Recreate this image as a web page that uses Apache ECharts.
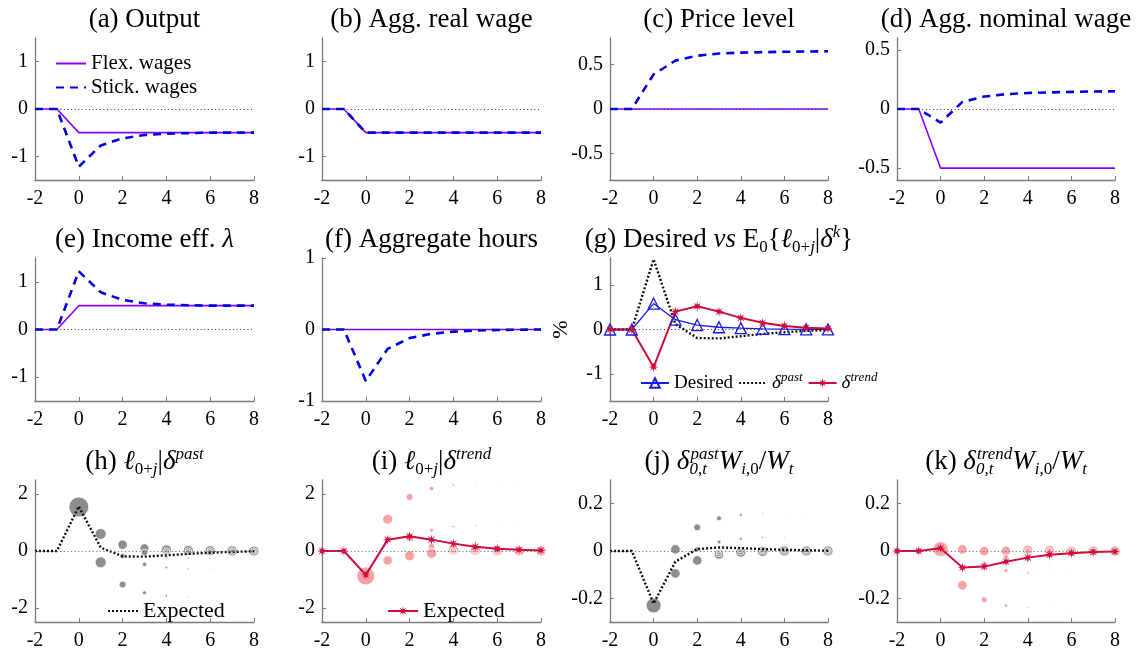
<!DOCTYPE html>
<html><head><meta charset="utf-8">
<script src="https://cdn.jsdelivr.net/npm/echarts@6/dist/echarts.min.js"></script>
<style>html,body{margin:0;padding:0;background:#fff}#c{width:1143px;height:653px}</style>
</head><body><div id="c"></div>
<script>
// ---------- DATA ----------
const periods = [-2,-1,0,1,2,3,4,5,6,7,8];
const outputFlex   = [0,0,-0.5,-0.5,-0.5,-0.5,-0.5,-0.5,-0.5,-0.5,-0.5];
const outputStick  = [0,0,-1.22,-0.77,-0.62,-0.55,-0.52,-0.51,-0.5,-0.5,-0.5];
const realWageFlex = [0,0,-0.5,-0.5,-0.5,-0.5,-0.5,-0.5,-0.5,-0.5,-0.5];
const realWageStick= [0,0,-0.5,-0.5,-0.5,-0.5,-0.5,-0.5,-0.5,-0.5,-0.5];
const priceFlex    = [0,0,0,0,0,0,0,0,0,0,0];
const priceStick   = [0,0,0.39,0.545,0.6,0.625,0.635,0.64,0.645,0.648,0.65];
const nomWageFlex  = [0,0,-0.5,-0.5,-0.5,-0.5,-0.5,-0.5,-0.5,-0.5,-0.5];
const nomWageStick = [0,0,-0.115,0.06,0.105,0.125,0.135,0.14,0.145,0.148,0.15];
const lambdaFlex   = [0,0,0.5,0.5,0.5,0.5,0.5,0.5,0.5,0.5,0.5];
const lambdaStick  = [0,0,1.22,0.78,0.62,0.55,0.52,0.51,0.5,0.5,0.5];
const hoursFlex    = [0,0,0,0,0,0,0,0,0,0,0];
const hoursStick   = [0,0,-0.72,-0.27,-0.12,-0.06,-0.03,-0.015,-0.007,-0.003,0];
const desired      = [0,0,0.58,0.22,0.1,0.05,0.03,0.015,0.008,0.004,0.002];
const deltaPast    = [0,0,1.57,0.12,-0.19,-0.2,-0.15,-0.1,-0.06,-0.03,-0.01];
const deltaTrend   = [0,0,-0.84,0.4,0.52,0.4,0.26,0.15,0.08,0.04,0.02];
const wagePastExp  = [0,0,-0.222,-0.045,0.008,0.015,0.012,0.008,0.005,0.003,0.001];
const wageTrendExp = [0,0,0.012,-0.07,-0.066,-0.045,-0.028,-0.016,-0.009,-0.004,-0.002];
// bubbles: [period, value, weight]
const hoursPastBubbles = [
 [0,1.55,20],[1,0.6,11],[1,-0.4,11],[2,0.22,9.5],[2,-0.18,5],[2,-1.18,7],
 [3,0.1,9],[3,-0.05,6.5],[3,-0.47,4.5],[3,-1.47,4],
 [4,0.04,10],[4,0.0,6.5],[4,-0.01,3.5],[4,-0.2,3],[4,-0.58,2.5],[4,-1.58,2.5],
 [5,0.02,10],[5,0.0,6.5],[5,-0.01,3.5],[5,-0.25,2],[5,-0.63,1.8],[5,-1.62,1.5],
 [6,0.01,10],[6,0,6.5],[6,-0.005,3.5],[6,-0.26,1.5],[6,-0.65,1.2],
 [7,0.005,10],[7,0,6.5],[7,0,3.5],[8,0,10],[8,0,6.5],[8,0,3.5]
];
const hoursTrendBubbles = [
 [0,-0.88,18],[1,1.12,10],[1,-0.33,9.5],[2,1.9,7],[2,0.45,7],[2,-0.17,10],
 [3,2.2,4.5],[3,0.73,4],[3,0.16,6.5],[3,-0.08,10],
 [4,2.33,2.5],[4,0.86,2.5],[4,0.3,3],[4,0.03,10],[4,0,6.5],[4,-0.02,3.5],
 [5,2.38,1.5],[5,0.9,1.8],[5,0.33,2.5],[5,0.02,10],[5,0,6.5],[5,-0.01,3.5],
 [6,2.4,1],[6,0.92,1.2],[6,0.35,1.8],[6,0.01,10],[6,0,6.5],[6,0,3.5],
 [7,2.42,0.8],[7,0.93,1],[7,0.36,1.2],[7,0,10],[7,0,6.5],[7,0,3.5],
 [8,0,10],[8,0,6.5],[8,0,3.5]
];
const wagePastBubbles = [
 [0,-0.23,15],[1,0.007,9.5],[1,-0.095,9.5],[2,0.1,7],[2,0.007,5],[2,-0.04,9.5],
 [3,0.138,5],[3,0.038,4],[3,-0.015,9.5],[3,-0.012,6],[3,-0.01,3],
 [4,0.152,3],[4,0.052,3],[4,0.014,2.5],[4,-0.005,10],[4,-0.003,6.5],[4,0,3.5],
 [5,0.158,1.5],[5,0.057,2],[5,0.018,2],[5,-0.002,10],[5,0,6.5],[5,0,3.5],
 [6,0.162,1],[6,0.06,1.2],[6,0,10],[6,0,6.5],[6,0,3.5],
 [7,0.163,0.8],[7,0,10],[7,0,6.5],[7,0,3.5],[8,0,10],[8,0,6.5],[8,0,3.5]
];
const wageTrendBubbles = [
 [0,0.008,15],[1,0.007,9.5],[1,-0.145,9.5],[2,0.0,9.5],[2,-0.055,5],[2,-0.206,6],
 [3,0.0,9.5],[3,-0.024,5],[3,-0.082,4],[3,-0.23,3.5],
 [4,0.003,10],[4,0,6.5],[4,-0.04,2.5],[4,-0.092,2.5],[4,-0.238,2],
 [5,0.002,10],[5,0,6.5],[5,-0.045,1.5],[5,-0.096,1.5],[5,-0.24,1.5],
 [6,0,10],[6,0,6.5],[6,-0.098,1.2],[6,-0.242,1],
 [7,0,10],[7,0,6.5],[7,-0.099,0.8],[8,0,10],[8,0,6.5],[8,0,3.5]
];
const xTickStep = 2;
const yRanges = [[-1.5,1.5],[-1.5,1.5],[-0.8,0.8],[-0.6,0.6],[-1.5,1.5],[-1,1],[-1.6,1.6],[-2.5,2.5],[-2.5,2.5],[-0.3,0.3],[-0.3,0.3]];
const yTickLabels = [[-1,0,1],[-1,0,1],[-0.5,0,0.5],[-0.5,0,0.5],[-1,0,1],[-1,0,1],[-1,0,1],[-2,0,2],[-2,0,2],[-0.2,0,0.2],[-0.2,0,0.2]];
const panelTitles = [
 '(a) Output','(b) Agg. real wage','(c) Price level','(d) Agg. nominal wage',
 '(e) Income eff. {i|λ}','(f) Aggregate hours',
 '(g) Desired {i|vs} E{sub|0}{{i|ℓ}{sub|0+}{subi|j}|{i|δ}{supi|k}}',
 '(h) {i|ℓ}{sub|0+}{subi|j}|{i|δ}{supi|past}',
 '(i) {i|ℓ}{sub|0+}{subi|j}|{i|δ}{supi|trend}',
 '{t|(j) }{i|δ}{subz|0,t}{supi|past}{i|W}{subi|i}{sub|,0}{t|/}{i|W}{subi|t}',
 '{t|(k) }{i|δ}{subz|0,t}{supi|trend}{i|W}{subi|i}{sub|,0}{t|/}{i|W}{subi|t}'
];

// ---------- LAYOUT / STYLE ----------
const FONT = 'Liberation Serif';
const TS = 27, SS = 17;
const colL = [35, 322, 610, 897], colW = [219, 219, 218, 218];
const rowT = [38, 258, 480], rowH = [142, 143, 142];
const cells = [[0,0],[0,1],[0,2],[0,3],[1,0],[1,1],[1,2],[2,0],[2,1],[2,2],[2,3]];
const PURPLE = '#8c00ff', BLUE = '#0000e0', CRIMSON = '#d1093c', GRAY = '#8e8e8e', PINK = '#f7a3a6';

function starPath(){
  let d = '';
  for (let k = 0; k < 16; k++) {
    const r = k % 2 === 0 ? 10 : 3.6;
    const a = Math.PI * k / 8 - Math.PI / 2;
    d += (k ? 'L' : 'M') + (r * Math.cos(a)).toFixed(2) + ' ' + (r * Math.sin(a)).toFixed(2) + ' ';
  }
  return 'path://' + d + 'Z';
}
const STAR = starPath();

const grid = [], xAxis = [], yAxis = [], series = [], title = [];
const axisCommon = {
  axisLine: { show: true, onZero: false, lineStyle: { color: '#7a7a7a', width: 1.3 } },
  splitLine: { show: false },
  axisLabel: { color: '#000', fontFamily: FONT, fontSize: 20, margin: 7 },
};
const richT = {
  t: { fontFamily: FONT, fontSize: TS, lineHeight: 32, align: 'left' },
  i: { fontStyle: 'italic', fontFamily: FONT, fontSize: TS, lineHeight: 32, align: 'left' },
  sub: { fontFamily: FONT, fontSize: SS, lineHeight: 17, verticalAlign: 'bottom', align: 'left' },
  subi: { fontFamily: FONT, fontStyle: 'italic', fontSize: SS, lineHeight: 17, verticalAlign: 'bottom', align: 'left' },
  supi: { fontFamily: FONT, fontStyle: 'italic', fontSize: SS, lineHeight: 17, verticalAlign: 'top', align: 'left' },
  subz: { fontFamily: FONT, fontStyle: 'italic', fontSize: SS, lineHeight: 17, verticalAlign: 'bottom', width: 1, align: 'left' }
};
const titleTop = [4, 224, 446];

cells.forEach(([r, c], gi) => {
  grid.push({ left: colL[c], top: rowT[r], width: colW[c], height: rowH[r], containLabel: false });
  xAxis.push(Object.assign({}, axisCommon, {
    type: 'value', gridIndex: gi, min: periods[0], max: periods[periods.length - 1], interval: xTickStep,
    axisTick: { show: true, inside: true, length: 4, lineStyle: { color: '#7a7a7a' } },
    axisLabel: Object.assign({}, axisCommon.axisLabel, { margin: 9 })
  }));
  yAxis.push(Object.assign({}, axisCommon, {
    type: 'value', gridIndex: gi, min: yRanges[gi][0], max: yRanges[gi][1],
    axisTick: { show: true, inside: true, length: 4, customValues: yTickLabels[gi], lineStyle: { color: '#7a7a7a' } },
    axisLabel: Object.assign({}, axisCommon.axisLabel, { customValues: yTickLabels[gi] })
  }));
  title.push({
    text: panelTitles[gi], left: colL[c] + colW[c] / 2, top: titleTop[r], textAlign: 'center', padding: 0,
    textStyle: { fontFamily: FONT, fontSize: TS, fontWeight: 'normal', color: '#000', lineHeight: 32, rich: richT }
  });
  series.push({
    type: 'line', name: 'zero' + gi, xAxisIndex: gi, yAxisIndex: gi, data: [], z: 1, silent: true,
    markLine: { silent: true, symbol: 'none', label: { show: false }, animation: false,
      lineStyle: { color: gi >= 7 ? '#666' : '#333', width: 1, type: [1, 2.6] }, data: [{ yAxis: 0 }] }
  });
});
yAxis[6].name = '%'; yAxis[6].nameLocation = 'middle'; yAxis[6].nameGap = 38; yAxis[6].nameRotate = 90;
yAxis[6].nameTextStyle = { fontFamily: FONT, fontSize: 22, color: '#000' };

const pts = arr => periods.map((t, i) => [t, arr[i]]);
function addLine(gi, name, arr, style) {
  series.push(Object.assign({ type: 'line', name, xAxisIndex: gi, yAxisIndex: gi, data: pts(arr),
    symbol: 'none', z: 3, animation: false }, style));
}
const flexS = { lineStyle: { color: PURPLE, width: 1.6 }, itemStyle: { color: PURPLE } };
const stickS = { lineStyle: { color: BLUE, width: 2.6, type: [8, 6] }, itemStyle: { color: BLUE } };
const pairs = [[outputFlex, outputStick],[realWageFlex, realWageStick],[priceFlex, priceStick],[nomWageFlex, nomWageStick],[lambdaFlex, lambdaStick],[hoursFlex, hoursStick]];
pairs.forEach((p, gi) => { addLine(gi, 'Flex. wages', p[0], flexS); addLine(gi, 'Stick. wages', p[1], stickS); });

const pastS = { lineStyle: { color: '#111', width: 2.4, type: [2, 2] }, itemStyle: { color: '#111' } };
const trendS = { symbol: STAR, symbolSize: 10, showAllSymbol: true,
  lineStyle: { color: CRIMSON, width: 2 }, itemStyle: { color: CRIMSON } };
addLine(6, 'Desired', desired, { symbol: 'triangle', symbolSize: 11, showAllSymbol: true,
  lineStyle: { color: '#1a1ae6', width: 1.3 }, itemStyle: { color: 'rgba(255,255,255,0)', borderColor: '#1a1ae6', borderWidth: 1.3 } });
addLine(6, 'delta_past', deltaPast, pastS);
addLine(6, 'delta_trend', deltaTrend, trendS);

function addBubbles(gi, arr, color) {
  series.push({ type: 'scatter', xAxisIndex: gi, yAxisIndex: gi, data: arr, z: 2, animation: false,
    symbolSize: v => v[2], itemStyle: { color, borderColor: '#fff', borderWidth: 0.8, opacity: 1 } });
}
addBubbles(7, hoursPastBubbles, GRAY);
addLine(7, 'Expected_h', deltaPast, pastS);
addBubbles(8, hoursTrendBubbles, PINK);
addLine(8, 'Expected_i', deltaTrend, trendS);
addBubbles(9, wagePastBubbles, GRAY);
addLine(9, 'wpast', wagePastExp, pastS);
addBubbles(10, wageTrendBubbles, PINK);
addLine(10, 'wtrend', wageTrendExp, trendS);

const legendText = { fontFamily: FONT, color: '#000' };
const noSym = { color: 'rgba(0,0,0,0)', borderWidth: 0, opacity: 0 };
const legend = [
  { left: 55, top: 53, padding: 0, orient: 'vertical', itemWidth: 30, itemHeight: 14, itemGap: 3,
    textStyle: Object.assign({ fontSize: 21 }, legendText),
    data: [{ name: 'Flex. wages', itemStyle: noSym }, { name: 'Stick. wages', itemStyle: noSym }] },
  { left: 640, top: 371, padding: 0, orient: 'horizontal', itemWidth: 28, itemHeight: 12, itemGap: 5,
    textStyle: Object.assign({ fontSize: 19, rich: {
      d: { fontFamily: FONT, fontStyle: 'italic', fontSize: 19, lineHeight: 24 },
      s: { fontFamily: FONT, fontStyle: 'italic', fontSize: 13, lineHeight: 13, verticalAlign: 'top' } } }, legendText),
    data: ['Desired', { name: 'delta_past', itemStyle: noSym }, 'delta_trend'],
    formatter: n => n === 'Desired' ? 'Desired' : (n === 'delta_past' ? '{d|δ}{s|past}' : '{d|δ}{s|trend}') },
  { left: 107, top: 600, padding: 0, itemWidth: 30, itemHeight: 12, textStyle: Object.assign({ fontSize: 22 }, legendText),
    data: [{ name: 'Expected_h', itemStyle: noSym }], formatter: () => 'Expected' },
  { left: 387, top: 600, padding: 0, itemWidth: 30, itemHeight: 12, textStyle: Object.assign({ fontSize: 22 }, legendText),
    data: ['Expected_i'], formatter: () => 'Expected' }
];

const chart = echarts.init(document.getElementById('c'), null, { renderer: 'canvas' });
chart.setOption({ animation: false, backgroundColor: '#fff', title, grid, xAxis, yAxis, series, legend });
</script></body></html>
